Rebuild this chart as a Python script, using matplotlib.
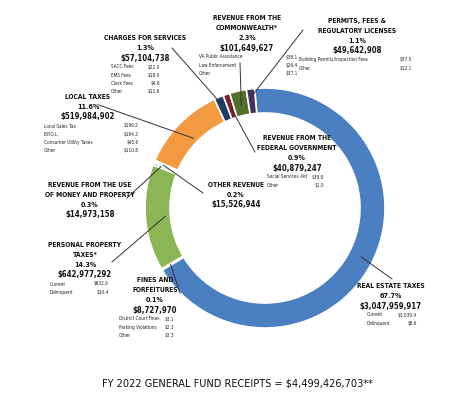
import numpy as np
import matplotlib.pyplot as plt

# slices, clockwise from the top
categories = ['REAL ESTATE TAXES', 'FINES AND\nFORFEITURES', 'PERSONAL PROPERTY\nTAXES*',
              'REVENUE FROM THE USE\nOF MONEY AND PROPERTY', 'OTHER REVENUE', 'LOCAL TAXES',
              'CHARGES FOR SERVICES', 'REVENUE FROM THE\nFEDERAL GOVERNMENT',
              'REVENUE FROM THE\nCOMMONWEALTH*', 'PERMITS, FEES &\nREGULATORY LICENSES']
amounts = [3047959917, 8727970, 642977292, 14973158, 15526944, 519984902,
           57104738, 40879247, 101649627, 49642908]
pct_labels = ['67.7%', '0.1%', '14.3%', '0.3%', '0.2%', '11.6%', '1.3%', '0.9%', '2.3%', '1.1%']
details = [
    [('Current', '$3,039.4'), ('Delinquent', '$8.6')],
    [('District Court Fines', '$3.1'), ('Parking Violations', '$2.3'), ('Other', '$3.3')],
    [('Current', '$632.6'), ('Delinquent', '$10.4')],
    [],
    [],
    [('Local Sales Tax', '$199.2'), ('B.P.O.L.', '$164.2'), ('Consumer Utility Taxes', '$45.6'), ('Other', '$110.8')],
    [('SACC Fees', '$22.0'), ('EMS Fees', '$18.9'), ('Clerk Fees', '$4.6'), ('Other', '$11.6')],
    [('Social Services Aid', '$39.8'), ('Other', '$1.0')],
    [('VA Public Assistance', '$38.1'), ('Law Enforcement', '$26.4'), ('Other', '$37.1')],
    [('Building Permits/Inspection Fees', '$37.5'), ('Other', '$12.1')],
]
total_label = 'FY 2022 GENERAL FUND RECEIPTS = $4,499,426,703**'

colors = ['#4a7fc1', '#dfe8f3', '#8cb556', '#b3c6de', '#eef2f7', '#f39a41',
          '#1f3c68', '#7b1e27', '#546f2b', '#47305f']

# text block layout: centre x, top y, item name x, item value x, leader start, leader radius
layout = [
    (391, 286, 367, 417, (392, 279), 108),
    (155, 280, 119, 174, (180, 293), 110),
    (85, 245, 50, 109, (112, 262), 100),
    (90, 185, None, None, (127, 198), 112),
    (236, 185, None, None, (203, 193), 110),
    (88, 97, 44, 139, (99, 105), 100),
    (145, 38, 111, 160, (172, 48), 112),
    (297, 138, 267, 324, (255, 152), 105),
    (247, 18, 199, 298, (240, 63), 105),
    (357, 21, 299, 412, (303, 30), 112),
]

plt.rcParams['font.family'] = ['DejaVu Sans']
plt.rcParams['font.stretch'] = 'condensed'

fig = plt.figure(figsize=(4.74, 3.93), dpi=100)
ax = fig.add_axes([0, 0, 1, 1])

cx, cy, R = 265, 208, 120
# y axis is inverted below, so draw counter-clockwise from -95 deg to appear clockwise from the top
wedges, _ = ax.pie(amounts, colors=colors, startangle=-95, counterclock=True,
                   center=(cx, cy), radius=R, frame=True,
                   wedgeprops=dict(width=25, edgecolor='white', linewidth=1.2))
ax.set_xlim(0, 474)
ax.set_ylim(393, 0)
ax.set_aspect('equal')
ax.axis('off')

tc = '#111111'
for w, cat, pct, amt, items, (tx, ty, nx, vx, ls, lr) in zip(
        wedges, categories, pct_labels, amounts, details, layout):
    y = ty
    for ln in cat.split('\n'):
        ax.text(tx, y, ln, ha='center', va='center', fontsize=4.9, fontweight='bold', color=tc)
        y += 10
    ax.text(tx, y, pct, ha='center', va='center', fontsize=5.1, fontweight='bold', color=tc)
    y += 10
    ax.text(tx, y, '${:,}'.format(amt), ha='center', va='center', fontsize=5.6,
            fontweight='bold', color=tc)
    y += 9
    for name, val in items:
        ax.text(nx, y, name, ha='left', va='center', fontsize=3.4, color='#222222')
        ax.text(vx, y, val, ha='right', va='center', fontsize=3.4, color='#222222')
        y += 8.3
    # leader line to the middle of the slice
    mid = np.deg2rad((w.theta1 + w.theta2) / 2)
    ex, ey = cx + lr * np.cos(mid), cy + lr * np.sin(mid)
    ax.plot([ls[0], ex], [ls[1], ey], color='#333333', lw=0.7)

ax.text(237, 383, total_label, ha='center', va='center', fontsize=7.8, color='#111111')

fig.savefig('out.png', dpi=100)
